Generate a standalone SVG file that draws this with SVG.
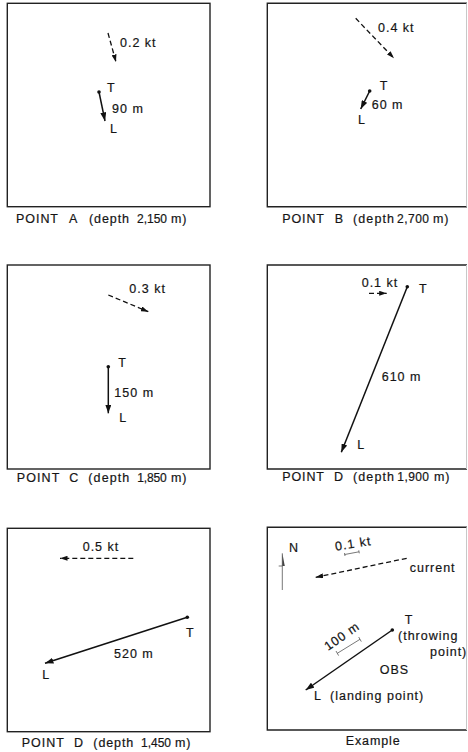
<svg xmlns="http://www.w3.org/2000/svg" width="468" height="752" viewBox="0 0 468 752">
<style>
.frame{fill:none;stroke:#222;stroke-width:1.4}
.edge{fill:none;stroke:#c8c8c8;stroke-width:1}
.throw{fill:none;stroke:#111;stroke-width:1.5}
.cur{fill:none;stroke:#111;stroke-width:1.3;stroke-dasharray:5 3}
.thin{fill:none;stroke:#555;stroke-width:0.8}
text{font-family:"Liberation Sans",Arial,sans-serif;font-size:12.5px;fill:#151515;stroke:#151515;stroke-width:0.2;letter-spacing:1px}
.cap text{font-size:12.5px;letter-spacing:0}
.cap text.n{font-size:12px}
.cap text.m{letter-spacing:0.8px}
</style>
<defs>
<marker id="ah" markerUnits="userSpaceOnUse" markerWidth="9" markerHeight="6" refX="8.5" refY="3" orient="auto">
<path d="M0,0 L8.5,3 L0,6 z" fill="#111"/>
</marker>
<marker id="ahs" markerUnits="userSpaceOnUse" markerWidth="8" markerHeight="5" refX="7.5" refY="2.5" orient="auto">
<path d="M0,0 L7.5,2.5 L0,5 z" fill="#111"/>
</marker>
</defs>
<rect width="468" height="752" fill="#fff"/>

<g id="pointA">
<rect class="frame" x="7.3" y="3.3" width="202.7" height="203.4"/>
<line class="cur" x1="108" y1="33" x2="116" y2="62" marker-end="url(#ahs)"/>
<text x="120" y="47">0.2 kt</text>
<circle cx="99" cy="92" r="1.8" fill="#111"/>
<line class="throw" x1="99" y1="92" x2="105" y2="121" marker-end="url(#ah)"/>
<text x="107" y="92">T</text>
<text x="112" y="113">90 m</text>
<text x="110" y="133">L</text>
<g class="cap">
<text x="16" y="223" textLength="42" lengthAdjust="spacing">POINT</text>
<text x="69" y="223">A</text>
<text x="89" y="223" textLength="40" lengthAdjust="spacing">(depth</text>
<text class="n" x="137" y="223" textLength="30" lengthAdjust="spacing">2,150</text>
<text class="m" x="171" y="223">m)</text>
</g>
</g>

<g id="pointB">
<path class="frame" d="M467,3.3 H267.3 V206.7 H467"/>
<line class="edge" x1="466.5" y1="3.3" x2="466.5" y2="206.7"/>
<line class="cur" x1="355.7" y1="18.3" x2="394" y2="58.3" marker-end="url(#ahs)"/>
<text x="378" y="32">0.4 kt</text>
<circle cx="369.7" cy="91" r="1.8" fill="#111"/>
<line class="throw" x1="369.7" y1="91" x2="360.7" y2="109" marker-end="url(#ah)"/>
<text x="379.7" y="90">T</text>
<text x="371.7" y="109">60 m</text>
<text x="358" y="124">L</text>
<g class="cap">
<text x="282.3" y="223" textLength="41.7" lengthAdjust="spacing">POINT</text>
<text x="334.7" y="223">B</text>
<text x="353" y="223" textLength="41" lengthAdjust="spacing">(depth</text>
<text class="n" x="397" y="223" textLength="32" lengthAdjust="spacing">2,700</text>
<text class="m" x="433" y="223">m)</text>
</g>
</g>

<g id="pointC">
<rect class="frame" x="7.3" y="265" width="202.7" height="204"/>
<line class="cur" x1="108.3" y1="295" x2="148.3" y2="311.7" marker-end="url(#ahs)"/>
<text x="129.3" y="293.3">0.3 kt</text>
<circle cx="108.3" cy="366.7" r="1.8" fill="#111"/>
<line class="throw" x1="108.3" y1="366.7" x2="108.3" y2="413.3" marker-end="url(#ah)"/>
<text x="118.3" y="367.3">T</text>
<text x="114.3" y="396.7">150 m</text>
<text x="119.3" y="421.7">L</text>
<g class="cap">
<text x="16.7" y="481.7" textLength="42.6" lengthAdjust="spacing">POINT</text>
<text x="69.3" y="481.7">C</text>
<text x="88.3" y="481.7" textLength="41" lengthAdjust="spacing">(depth</text>
<text class="n" x="137.3" y="481.7" textLength="29.4" lengthAdjust="spacing">1,850</text>
<text class="m" x="171" y="481.7">m)</text>
</g>
</g>

<g id="pointD1">
<path class="frame" d="M467,265 H267.3 V469 H467"/>
<line class="edge" x1="466.5" y1="265" x2="466.5" y2="469"/>
<line class="cur" x1="369" y1="293.3" x2="386.7" y2="293.3" marker-end="url(#ahs)"/>
<text x="361.7" y="286.7">0.1 kt</text>
<circle cx="407.3" cy="286.7" r="1.8" fill="#111"/>
<line class="throw" x1="407.3" y1="286.7" x2="341.3" y2="452.3" marker-end="url(#ah)"/>
<text x="419" y="293.3">T</text>
<text x="381.7" y="381">610 m</text>
<text x="357.3" y="449.3">L</text>
<g class="cap">
<text x="282.3" y="480.7" textLength="41.7" lengthAdjust="spacing">POINT</text>
<text x="334" y="480.7">D</text>
<text x="353" y="480.7" textLength="41" lengthAdjust="spacing">(depth</text>
<text class="n" x="397.3" y="480.7" textLength="31.7" lengthAdjust="spacing">1,900</text>
<text class="m" x="434" y="480.7">m)</text>
</g>
</g>

<g id="pointD2">
<rect class="frame" x="7.3" y="528.3" width="202.7" height="203.4"/>
<line class="cur" x1="133.3" y1="558.3" x2="60" y2="558.3" stroke-dasharray="7 4" marker-end="url(#ahs)"/>
<text x="82.7" y="550.7">0.5 kt</text>
<circle cx="187.3" cy="617.3" r="1.8" fill="#111"/>
<line class="throw" x1="187.3" y1="617.3" x2="45" y2="663.3" marker-end="url(#ah)"/>
<text x="186" y="636.7">T</text>
<text x="114" y="658.3">520 m</text>
<text x="42.3" y="679">L</text>
<g class="cap">
<text x="21.7" y="746.7" textLength="42.3" lengthAdjust="spacing">POINT</text>
<text x="74" y="746.7">D</text>
<text x="93.3" y="746.7" textLength="40" lengthAdjust="spacing">(depth</text>
<text class="n" x="141" y="746.7" textLength="30" lengthAdjust="spacing">1,450</text>
<text class="m" x="175" y="746.7">m)</text>
</g>
</g>

<g id="example">
<path class="frame" d="M467,527.3 H267.3 V730 H467"/>
<line class="edge" x1="466.5" y1="527.3" x2="466.5" y2="730"/>
<line class="thin" x1="282.3" y1="553.3" x2="282.3" y2="590"/>
<path d="M282.3,553.3 L284.8,566 L282.3,566 z" fill="#444"/>
<line class="thin" x1="278.7" y1="566" x2="282.3" y2="566"/>
<text x="289" y="551.5">N</text>
<text x="335.7" y="550.7" transform="rotate(-9 335.7 550.7)">0.1 kt</text>
<path class="thin" d="M344.7,554.5 L359,551.8 M344.5,553 L345,556 M358.8,550.3 L359.3,553.3"/>
<line class="cur" x1="406.7" y1="558.3" x2="315.7" y2="577.3" stroke-dasharray="7 3.5" marker-end="url(#ahs)"/>
<text x="409.7" y="571.7">current</text>
<circle cx="392.3" cy="630" r="1.8" fill="#111"/>
<line class="throw" x1="392.3" y1="630" x2="305.7" y2="690" marker-end="url(#ah)"/>
<text x="328" y="651" transform="rotate(-34.7 328 651)">100 m</text>
<path class="thin" d="M337.3,653.3 L360,639.3 M336,651 L338.6,655.6 M358.7,637 L361.3,641.6"/>
<text x="404.7" y="624">T</text>
<text x="398" y="640">(throwing</text>
<text x="430" y="656">point)</text>
<text x="379.7" y="674">OBS</text>
<text y="700"><tspan x="314">L</tspan><tspan x="330">(landing point)</tspan></text>
<g class="cap">
<text x="345.7" y="745" textLength="54" lengthAdjust="spacing">Example</text>
</g>
</g>
</svg>
